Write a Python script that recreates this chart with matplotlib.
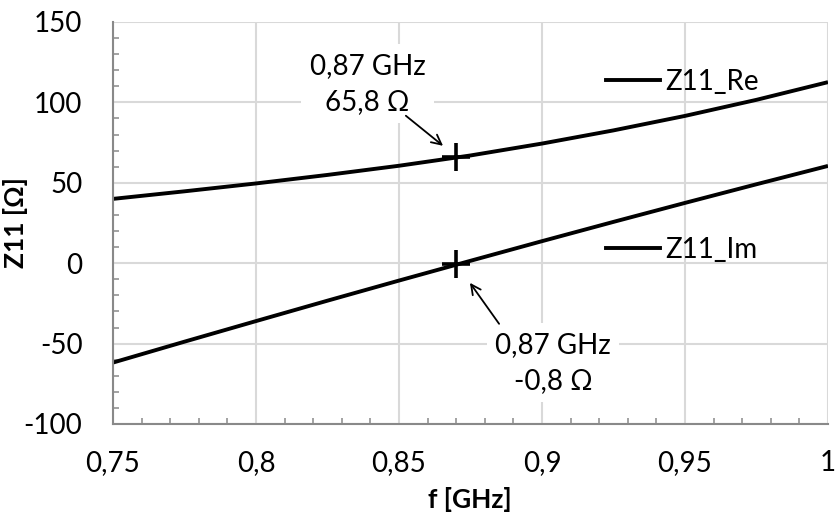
import matplotlib
matplotlib.use("Agg")
import matplotlib.pyplot as plt
from matplotlib.ticker import MultipleLocator, FuncFormatter
from matplotlib.lines import Line2D

# ---- data ----
freq = [0.75, 0.775, 0.8, 0.825, 0.85, 0.875, 0.9, 0.925, 0.95, 0.975, 1.0]
z11_re = [40.0, 44.7, 49.6, 54.9, 60.6, 67.0, 74.4, 82.6, 91.6, 101.6, 112.6]
z11_im = [-61.8, -48.8, -36.0, -23.3, -10.8, 1.5, 13.7, 25.7, 37.5, 49.1, 60.5]
marker_f = 0.87
marker_re = 65.8
marker_im = -0.8
series_labels = ["Z11_Re", "Z11_Im"]
x_label = "f [GHz]"
y_label = "Z11 [Ω]"
re_note = "0,87 GHz\n65,8 Ω"
im_note = "0,87 GHz\n-0,8 Ω"

plt.rcParams['font.family'] = ['Lato', 'DejaVu Sans']
FS = 20

fig = plt.figure(figsize=(8.38, 5.19), dpi=100)
W, H = 838, 519
L, R, T, B = 113, 828, 22, 424
ax = fig.add_axes([L / W, 1 - B / H, (R - L) / W, (B - T) / H])

ax.plot(freq, z11_re, color='black', lw=2.8, solid_capstyle='butt', solid_joinstyle='round')
ax.plot(freq, z11_im, color='black', lw=2.8, solid_capstyle='butt', solid_joinstyle='round')
ax.plot([marker_f], [marker_re], marker='+', ms=20, mew=2.6, color='black', ls='none')
ax.plot([marker_f], [marker_im], marker='+', ms=20, mew=2.6, color='black', ls='none')

ax.set_xlim(0.75, 1.0)
ax.set_ylim(-100, 150)
ax.xaxis.set_major_locator(MultipleLocator(0.05))
ax.xaxis.set_minor_locator(MultipleLocator(0.01))
ax.yaxis.set_major_locator(MultipleLocator(50))
ax.yaxis.set_minor_locator(MultipleLocator(10))

def fmt(v, pos):
    s = f"{v:.2f}".rstrip('0').rstrip('.')
    return s.replace('.', ',')
ax.xaxis.set_major_formatter(FuncFormatter(fmt))
ax.yaxis.set_major_formatter(FuncFormatter(lambda v, p: f"{int(round(v))}"))

ax.grid(True, which='major', color='#d9d9d9', lw=1.5)
ax.set_axisbelow(True)
for s in ['top', 'right']:
    ax.spines[s].set_visible(False)
for s in ['left', 'bottom']:
    ax.spines[s].set_color('#898989')
    ax.spines[s].set_linewidth(1.5)

ax.tick_params(which='major', length=0, labelsize=FS, colors='black')
ax.tick_params(axis='y', which='major', pad=22)
ax.tick_params(axis='x', which='major', pad=19)
ax.tick_params(which='minor', direction='in', length=4.5, width=1.1, color='#898989')

ax.set_xlabel(x_label, fontsize=FS - 1, fontweight='bold')
ax.set_ylabel(y_label, fontsize=FS - 1, fontweight='bold')
ax.xaxis.set_label_coords((470 - L) / (R - L), -(500 - B) / (B - T))
ax.yaxis.set_label_coords(-(L - 16) / (R - L), 0.5)
ax.xaxis.label.set_va('center')
ax.yaxis.label.set_va('center')

bbox = dict(boxstyle='square,pad=0.3', fc='white', ec='none')
arrow = dict(arrowstyle='->,head_length=0.7,head_width=0.35', color='black', lw=1.3,
             shrinkA=0, shrinkB=0)
ax.text(0.839, 111.5, re_note, ha='center', va='center', fontsize=FS,
        linespacing=1.5, bbox=bbox)
ax.text(0.9038, -62.0, im_note, ha='center', va='center', fontsize=FS,
        linespacing=1.5, bbox=bbox)
ax.annotate('', xy=(0.8654, 73.0), xytext=(0.8524, 91.7), arrowprops=arrow)
ax.annotate('', xy=(0.8748, -12.2), xytext=(0.885, -37.7), arrowprops=arrow)

handles = [Line2D([], [], color='black', lw=2.8), Line2D([], [], color='black', lw=2.8)]
leg = ax.legend(handles, series_labels, loc='center left',
                bbox_to_anchor=((606 - L) / (R - L), 1 - (166 - T) / (B - T)),
                frameon=False, fontsize=FS, handlelength=1.95, handletextpad=0.2,
                labelspacing=5.1, borderpad=0, borderaxespad=0)

fig.savefig('out.png', dpi=100, facecolor='white')
